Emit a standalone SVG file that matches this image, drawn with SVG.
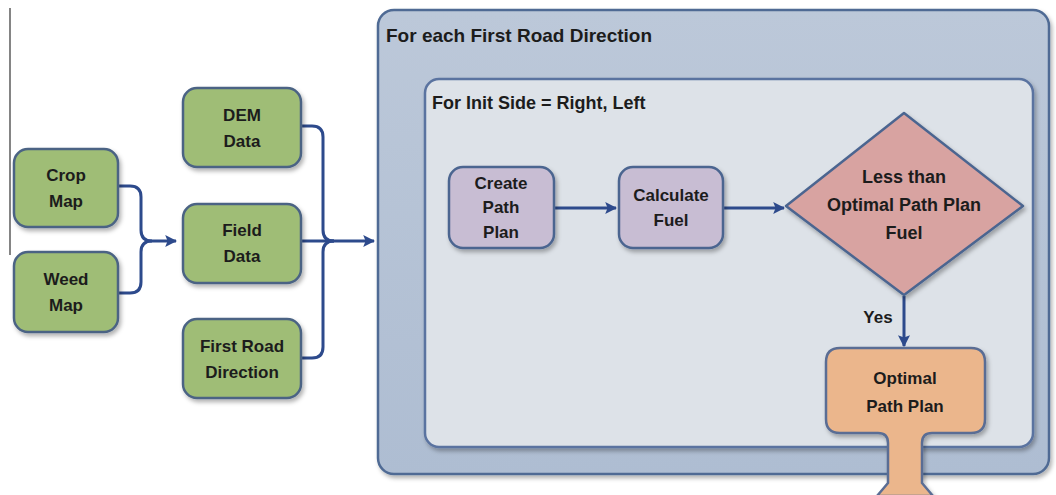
<svg xmlns="http://www.w3.org/2000/svg" width="1056" height="495" viewBox="0 0 1056 495">
<defs>
<style>
.t{font-family:"Liberation Sans",Arial,sans-serif;font-weight:bold;fill:#1c1c1c;text-anchor:middle;font-size:17px}
.tt{font-family:"Liberation Sans",Arial,sans-serif;font-weight:bold;fill:#1c1c1c;font-size:19px}
.g{fill:#9fbd76;stroke:#4b6484;stroke-width:2.5}
.p{fill:#c8bdd3;stroke:#4b6590;stroke-width:2.5}
.c{fill:none;stroke:#2d4a8c;stroke-width:3}
</style>
<linearGradient id="og" x1="0" y1="0" x2="0" y2="1">
<stop offset="0" stop-color="#bcc8d9"/>
<stop offset="1" stop-color="#aebdd2"/>
</linearGradient>
<filter id="sh" x="-10%" y="-10%" width="130%" height="130%">
<feDropShadow dx="2" dy="3" stdDeviation="2" flood-color="#000" flood-opacity="0.3"/>
</filter>
<marker id="ah" viewBox="0 0 10 10" refX="9" refY="5" markerWidth="4" markerHeight="4" orient="auto" markerUnits="strokeWidth">
<path d="M0 0 L10 5 L0 10 L2 5 Z" fill="#2d4a8c"/>
</marker>
</defs>
<rect width="1056" height="495" fill="#ffffff"/>
<line x1="10" y1="8" x2="10" y2="255" stroke="#333" stroke-width="1.2"/>

<g id="outer">
<rect x="378" y="10" width="671" height="464" rx="16" fill="url(#og)" stroke="#4f6b94" stroke-width="2.5" filter="url(#sh)"/>
<text class="tt" x="386" y="42">For each First Road Direction</text>
</g>
<g id="inner">
<rect x="425" y="79" width="608" height="368" rx="14" fill="#dde2e8" stroke="#5a73a0" stroke-width="2.5" filter="url(#sh)"/>
<text class="tt" x="432" y="109" style="font-size:18px">For Init Side = Right, Left</text>
</g>

<g id="connectors">
<path class="c" d="M118 186 H130 Q141 186 141 197 V230 Q141 241 152 241 H176" marker-end="url(#ah)"/>
<path class="c" d="M118 293 H130 Q141 293 141 282 V252 Q141 241 152 241"/>
<path class="c" d="M301 126 H312 Q323 126 323 137 V230 Q323 241 334 241"/>
<path class="c" d="M301 358 H312 Q323 358 323 347 V252 Q323 241 334 241"/>
<path class="c" d="M301 241 H374" marker-end="url(#ah)"/>
<path class="c" d="M554 208 H616" marker-end="url(#ah)"/>
<path class="c" d="M723 208 H784" marker-end="url(#ah)"/>
<path class="c" d="M904 296 V346" marker-end="url(#ah)"/>
<text class="t" x="878" y="323">Yes</text>
</g>

<g id="crop-map">
<rect class="g" x="14" y="149" width="104" height="78" rx="14" filter="url(#sh)"/>
<text class="t" x="66" y="181">Crop</text>
<text class="t" x="66" y="207">Map</text>
</g>
<g id="weed-map">
<rect class="g" x="14" y="252" width="104" height="80" rx="14" filter="url(#sh)"/>
<text class="t" x="66" y="285">Weed</text>
<text class="t" x="66" y="311">Map</text>
</g>
<g id="dem-data">
<rect class="g" x="183" y="88" width="118" height="79" rx="14" filter="url(#sh)"/>
<text class="t" x="242" y="121">DEM</text>
<text class="t" x="242" y="147">Data</text>
</g>
<g id="field-data">
<rect class="g" x="183" y="204" width="118" height="79" rx="14" filter="url(#sh)"/>
<text class="t" x="242" y="236">Field</text>
<text class="t" x="242" y="262">Data</text>
</g>
<g id="first-road-direction">
<rect class="g" x="183" y="319" width="118" height="79" rx="14" filter="url(#sh)"/>
<text class="t" x="242" y="352">First Road</text>
<text class="t" x="242" y="378">Direction</text>
</g>

<g id="create-path-plan">
<rect class="p" x="449" y="167" width="105" height="81" rx="14" filter="url(#sh)"/>
<text class="t" x="501" y="189">Create</text>
<text class="t" x="501" y="213">Path</text>
<text class="t" x="501" y="238">Plan</text>
</g>
<g id="calculate-fuel">
<rect class="p" x="619" y="167" width="104" height="81" rx="14" filter="url(#sh)"/>
<text class="t" x="671" y="201">Calculate</text>
<text class="t" x="671" y="226">Fuel</text>
</g>
<g id="decision">
<path d="M904 113 L1023 206 L904 295 L786 206 Z" fill="#d8a3a1" stroke="#4b6590" stroke-width="2.5" stroke-linejoin="round" filter="url(#sh)"/>
<text class="t" x="904" y="183" style="font-size:18px">Less than</text>
<text class="t" x="904" y="211" style="font-size:18px">Optimal Path Plan</text>
<text class="t" x="904" y="239" style="font-size:18px">Fuel</text>
</g>
<g id="optimal-path-plan">
<path d="M840 348 H971 Q985 348 985 362 V419 Q985 433 971 433 H932 Q922 433 922 443 V483 L933 496 L877 496 L888 483 V443 Q888 433 878 433 H840 Q826 433 826 419 V362 Q826 348 840 348 Z" fill="#ebb68c" stroke="#5a6d94" stroke-width="2.5" stroke-linejoin="round" filter="url(#sh)"/>
<text class="t" x="905" y="384">Optimal</text>
<text class="t" x="905" y="412">Path Plan</text>
</g>
</svg>
